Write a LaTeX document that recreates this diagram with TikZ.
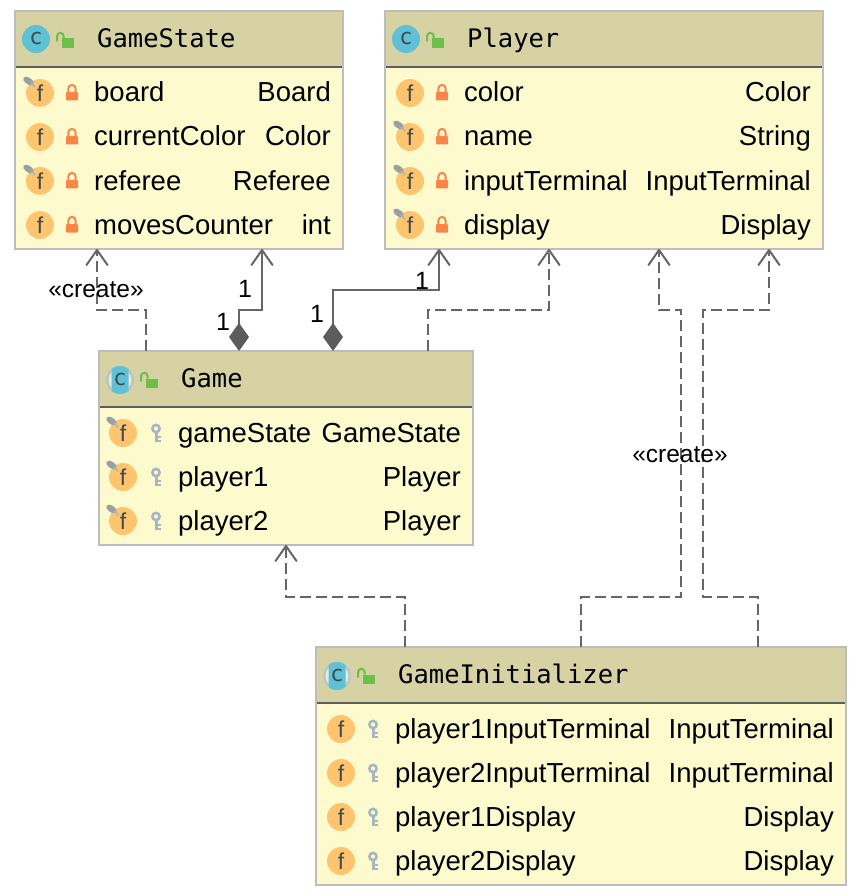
\documentclass[tikz,border=0pt]{standalone}
\usepackage{fontspec}
\setmainfont{Liberation Sans}
\newfontfamily\monof{DejaVu Sans Mono}
\usetikzlibrary{arrows.meta}
\definecolor{hdr}{HTML}{D6D2A4}
\definecolor{bdy}{HTML}{FDFACD}
\definecolor{brd}{HTML}{BDBDBD}
\definecolor{rul}{HTML}{5C5C5C}
\definecolor{teal}{HTML}{5FC1D6}
\definecolor{forange}{HTML}{FFC56E}
\definecolor{lockor}{HTML}{F98548}
\definecolor{lockgr}{HTML}{6CC04A}
\definecolor{keygr}{HTML}{A7B6BF}
\definecolor{ink}{HTML}{3F4A50}
\definecolor{conn}{HTML}{666666}
\tikzset{
 x=1pt,y=-1pt,
 classbody/.style={draw=brd,line width=2pt,fill=bdy,inner sep=0pt,outer sep=0pt,anchor=north west},
 classhead/.style={fill=hdr,inner sep=0pt,outer sep=0pt,anchor=north west},
 headrule/.style={draw=rul,line width=2pt},
 rowtext/.style={inner sep=0pt,anchor=base west,font=\fontsize{27.5}{30}\selectfont,text=black},
 rowtype/.style={inner sep=0pt,anchor=base east,font=\fontsize{27.5}{30}\selectfont,text=black},
 titletext/.style={inner sep=0pt,anchor=base west,font=\monof\fontsize{25.5}{28}\selectfont,text=black},
 label/.style={inner sep=0pt,anchor=base,font=\fontsize{24.5}{26}\selectfont,text=black},
 numlabel/.style={inner sep=0pt,anchor=base,font=\fontsize{25}{26}\selectfont,text=black},
 dep/.style={draw=conn,line width=2pt,dash pattern=on 11pt off 5pt,-{Straight Barb[length=15pt,width=21pt,line width=2pt,round]}},
 comp/.style={draw=conn,line width=2pt,{Diamond[length=28pt,width=20pt,fill=rul,color=rul]}-{Straight Barb[length=15pt,width=21pt,line width=2pt,round]}},
}
\newcommand{\classicon}[3]{%
 \begin{scope}[shift={(#1,#2)}]
  \ifnum#3=1
   \fill[keygr!80!white] (0,0) circle (14);
   \fill[hdr!50!white] (0,0) circle (11.5);
   \begin{scope}\clip (-8.5,-14) rectangle (8.5,14);\fill[teal] (0,0) circle (14);\end{scope}
  \else
   \fill[teal] (0,0) circle (14);
  \fi
  \node[inner sep=0pt,text=ink,font=\monof\fontsize{22}{22}\selectfont] at (0,-1) {c};
 \end{scope}}
\newcommand{\openlock}[2]{%
 \begin{scope}[shift={(#1,#2)}]
  \fill[lockgr] (-4,-1.5) rectangle (8,8);
  \draw[lockgr,line width=2pt] (-2.5,-1.5) -- (-2.5,-4) arc[start angle=0,end angle=-180,radius=3.2] -- (-8.9,1.5);
 \end{scope}}
\newcommand{\closedlock}[2]{%
 \begin{scope}[shift={(#1,#2)}]
  \fill[lockor,rounded corners=.8pt] (-6,-1) rectangle (6,7.5);
  \draw[lockor,line width=2pt] (-3.6,-1) -- (-3.6,-4.5) arc[start angle=180,end angle=360,radius=3.6] -- (3.6,-1);
 \end{scope}}
\newcommand{\keyicon}[2]{%
 \begin{scope}[shift={(#1,#2)}]
  \draw[keygr,line width=2.6pt] (0,-4.5) circle (3.6);
  \draw[keygr,line width=3pt] (0,-1) -- (0,8.5);
  \draw[keygr,line width=2pt] (0,3.5) -- (4.5,3.5) (0,7.5) -- (4.5,7.5);
 \end{scope}}
\newcommand{\fieldicon}[3]{%
 \begin{scope}[shift={(#1,#2)}]
  \fill[forange] (0,0) circle (14);
  \node[inner sep=0pt,text=ink,font=\fontsize{23}{23}\selectfont] at (0,0) {f};
  \ifnum#3=1
   \fill[keygr!75!black!80!white,rotate around={-35:(-11.5,-12)}] (-11.5,-12) ellipse (6 and 3.2);
   \draw[keygr,line width=1.5pt] (-9,-10) -- (-5,-6);
  \fi
 \end{scope}}
\newcommand{\classrow}[9]{%
 \fieldicon{#2}{#3}{#4}%
 \ifnum#5=0 \closedlock{#6}{#3}\else\keyicon{#6}{#3}\fi
 \node[rowtext] (#1n) at (#7,#3+9) {#8};
 \node[rowtype] (#1t) at (\rightx,#3+9) {#9};}
\newcommand{\rightx}{0}
\begin{document}
\begin{tikzpicture}
\useasboundingbox (0,0) rectangle (862,896);
\fill[white] (0,0) rectangle (862,896);

% GameState
\node[classbody,minimum width=328pt,minimum height=238pt] (gs) at (15,11) {};
\node[classhead,minimum width=326pt,minimum height=55pt] (gsh) at (16,12) {};
\draw[headrule] (gsh.south west) -- (gsh.south east);
\classicon{36}{39}{0}\openlock{66}{40}
\node[titletext] (gst) at (97,47.5) {GameState};
\renewcommand{\rightx}{331}
\classrow{gsa}{40}{93}{1}{0}{72}{94}{board}{Board}
\classrow{gsb}{40}{137}{0}{0}{72}{94}{currentColor}{Color}
\classrow{gsc}{40}{181}{1}{0}{72}{94}{referee}{Referee}
\classrow{gsd}{40}{225}{0}{0}{72}{94}{movesCounter}{int}

% Player
\node[classbody,minimum width=438pt,minimum height=238pt] (pl) at (385,11) {};
\node[classhead,minimum width=436pt,minimum height=55pt] (plh) at (386,12) {};
\draw[headrule] (plh.south west) -- (plh.south east);
\classicon{406}{39}{0}\openlock{436}{40}
\node[titletext] (plt) at (467,47.5) {Player};
\renewcommand{\rightx}{811}
\classrow{pla}{410}{93}{0}{0}{442}{464}{color}{Color}
\classrow{plb}{410}{137}{1}{0}{442}{464}{name}{String}
\classrow{plc}{410}{181}{1}{0}{442}{464}{inputTerminal}{InputTerminal}
\classrow{pld}{410}{225}{1}{0}{442}{464}{display}{Display}

% Game
\node[classbody,minimum width=374pt,minimum height=194pt] (ga) at (99,351) {};
\node[classhead,minimum width=372pt,minimum height=55pt] (gah) at (100,352) {};
\draw[headrule] (gah.south west) -- (gah.south east);
\classicon{120}{380}{1}\openlock{150}{380}
\node[titletext] (gat) at (181,387.5) {Game};
\renewcommand{\rightx}{461}
\classrow{gaa}{123}{433}{1}{1}{156}{178}{gameState}{GameState}
\classrow{gab}{123}{477}{1}{1}{156}{178}{player1}{Player}
\classrow{gac}{123}{521}{1}{1}{156}{178}{player2}{Player}

% GameInitializer
\node[classbody,minimum width=530pt,minimum height=238pt] (gi) at (316,647) {};
\node[classhead,minimum width=528pt,minimum height=55pt] (gih) at (317,648) {};
\draw[headrule] (gih.south west) -- (gih.south east);
\classicon{337}{676}{1}\openlock{367}{676}
\node[titletext] (git) at (398,683.5) {GameInitializer};
\renewcommand{\rightx}{834}
\classrow{gia}{341}{729}{0}{1}{373}{395}{player1InputTerminal}{InputTerminal}
\classrow{gib}{341}{773}{0}{1}{373}{395}{player2InputTerminal}{InputTerminal}
\classrow{gic}{341}{817}{0}{1}{373}{395}{player1Display}{Display}
\classrow{gid}{341}{861}{0}{1}{373}{395}{player2Display}{Display}

% Connectors
\draw[dep] ([xshift=47pt]ga.north west) -- ++(0,-41) -| ([xshift=82pt]gs.south west);
\draw[comp] ([xshift=140pt]ga.north west) -- ++(0,-41) -| ([xshift=247pt]gs.south west);
\draw[comp] ([xshift=234pt]ga.north west) -- ++(0,-61) -| ([xshift=54pt]pl.south west);
\draw[dep] ([xshift=329pt]ga.north west) -- ++(0,-41) -| ([xshift=164pt]pl.south west);
\draw[dep] ([xshift=89pt]gi.north west) -- ++(0,-50) -| ([xshift=187pt]ga.south west);
\draw[dep] ([xshift=265pt]gi.north west) -- ++(0,-50) -- ++(100,0) -- ++(0,-287) -| ([xshift=274pt]pl.south west);
\draw[dep] ([xshift=442pt]gi.north west) -- ++(0,-50) -- ++(-55,0) -- ++(0,-287) -| ([xshift=384pt]pl.south west);

% Labels
\node[label] (cr1) at (96,297) {«create»};
\node[label] (cr2) at (680,462) {«create»};
\node[numlabel] (n1) at (245,297) {1};
\node[numlabel] (n2) at (223,330) {1};
\node[numlabel] (n3) at (317,322) {1};
\node[numlabel] (n4) at (422,289) {1};
\end{tikzpicture}
\end{document}
